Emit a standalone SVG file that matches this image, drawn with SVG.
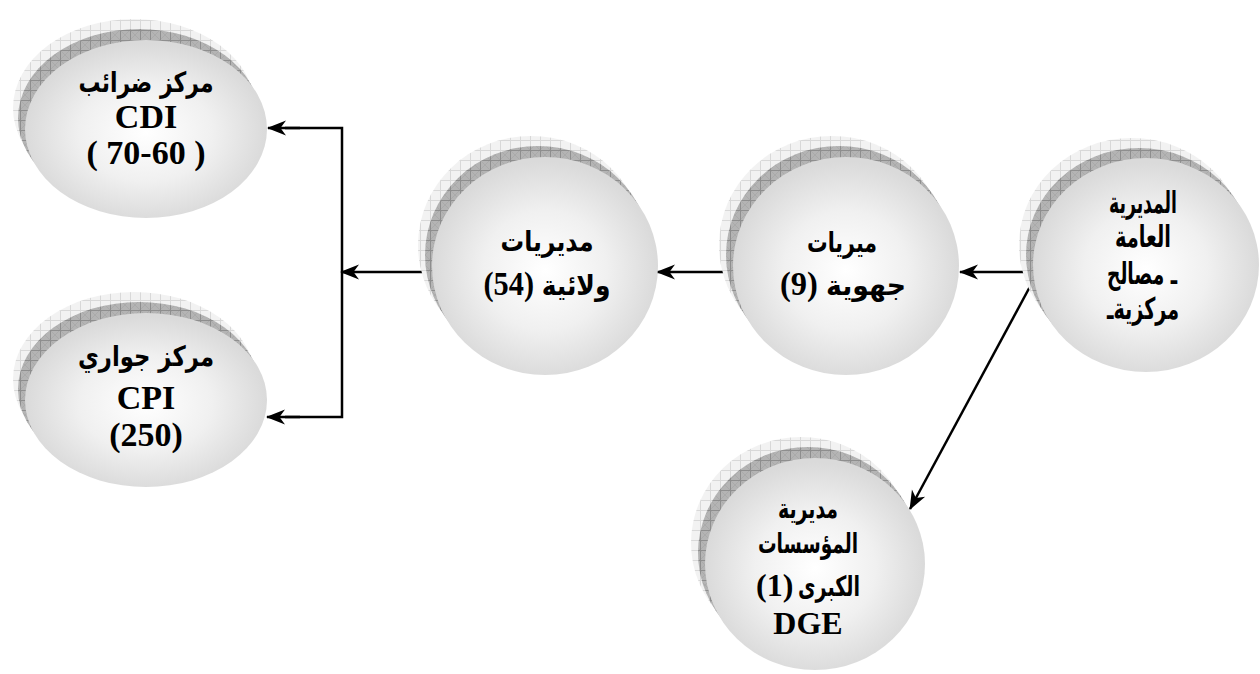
<svg xmlns="http://www.w3.org/2000/svg" width="1260" height="674" viewBox="0 0 1260 674">
  <defs>
    <radialGradient id="ballFill" cx="50%" cy="52%" r="50%">
      <stop offset="0%" stop-color="#ffffff"/>
      <stop offset="55%" stop-color="#f0f0f0"/>
      <stop offset="100%" stop-color="#dadada"/>
    </radialGradient>
    <pattern id="gridLight" width="10" height="10" patternUnits="userSpaceOnUse">
      <rect width="10" height="10" fill="#f2f2f2"/>
      <path d="M0 0.5H10M0.5 0V10" stroke="#d8d8d8" stroke-width="1"/>
    </pattern>
    <pattern id="gridDark" width="10" height="10" patternUnits="userSpaceOnUse">
      <rect width="10" height="10" fill="#b4b4b4"/>
      <path d="M0 0L10 10M10 0L0 10" stroke="#a2a2a2" stroke-width="0.6"/>
      <path d="M0 0.5H10M0.5 0V10" stroke="#8e8e8e" stroke-width="1"/>
    </pattern>
    <marker id="arrowHead" markerWidth="22" markerHeight="18" refX="19" refY="9" orient="auto" markerUnits="userSpaceOnUse">
      <path d="M20 9L1 1.5L6.5 9L1 16.5Z" fill="#000"/>
    </marker>
    <style>
      .shLight { fill: url(#gridLight); }
      .shDark { fill: url(#gridDark); }
      .ball { fill: url(#ballFill); }
      .lbl { font-family: "Liberation Serif", "DejaVu Sans", serif; font-weight: bold; font-size: 34px; fill: #000; text-anchor: middle; }
      .ar { font-family: "DejaVu Sans", "Liberation Serif", sans-serif; font-weight: bold; font-size: 28px; fill: #000; text-anchor: middle; }
      .arIn { font-family: "DejaVu Sans", "Liberation Serif", sans-serif; font-size: 28px; }
      .arSans { font-family: "DejaVu Sans", "Liberation Sans", sans-serif; font-weight: bold; font-size: 30px; fill: #000; text-anchor: middle; }
      .wire { stroke: #000; stroke-width: 2.5; fill: none; }
    </style>
  </defs>

  <!-- connectors -->
  <g id="connectors">
    <line class="wire" x1="1033" y1="272" x2="960" y2="272" marker-end="url(#arrowHead)"/>
    <line class="wire" x1="731" y1="272" x2="657" y2="272" marker-end="url(#arrowHead)"/>
    <line class="wire" x1="429" y1="272" x2="341" y2="272" marker-end="url(#arrowHead)"/>
    <polyline class="wire" points="285,128 342,128 342,417 285,417"/>
    <line class="wire" x1="300" y1="128" x2="268" y2="128" marker-end="url(#arrowHead)"/>
    <line class="wire" x1="300" y1="417" x2="267" y2="417" marker-end="url(#arrowHead)"/>
    <line class="wire" x1="1033" y1="281" x2="910" y2="509" marker-end="url(#arrowHead)"/>
  </g>

  <!-- tax centre CDI -->
  <g id="node-cdi">
    <ellipse class="shLight" cx="134" cy="108" rx="121" ry="89"/>
    <ellipse class="shDark" cx="139" cy="118" rx="121" ry="89"/>
    <ellipse class="ball" cx="146" cy="129" rx="121" ry="89"/>
    <text class="ar" x="146" y="92" textLength="135" lengthAdjust="spacingAndGlyphs">مركز ضرائب</text>
    <text class="lbl" x="146" y="128">CDI</text>
    <text class="lbl" x="146" y="164">( 70-60 )</text>
  </g>

  <!-- local centre CPI -->
  <g id="node-cpi">
    <ellipse class="shLight" cx="134" cy="379" rx="121" ry="87"/>
    <ellipse class="shDark" cx="139" cy="389" rx="121" ry="87"/>
    <ellipse class="ball" cx="146" cy="400" rx="121" ry="87"/>
    <text class="ar" x="146" y="366" textLength="136" lengthAdjust="spacingAndGlyphs">مركز جواري</text>
    <text class="lbl" x="146" y="409">CPI</text>
    <text class="lbl" x="146" y="446">(250)</text>
  </g>

  <!-- wilaya directorates -->
  <g id="node-wilaya">
    <ellipse class="shLight" cx="531" cy="245" rx="113" ry="109"/>
    <ellipse class="shDark" cx="538" cy="255" rx="113" ry="109"/>
    <ellipse class="ball" cx="545" cy="266" rx="113" ry="109"/>
    <text class="ar" x="547" y="251" textLength="93" lengthAdjust="spacingAndGlyphs">مديريات</text>
    <text class="lbl" x="547" y="295" direction="rtl" textLength="127" lengthAdjust="spacingAndGlyphs"><tspan class="arIn">ولائية</tspan> (54)</text>
  </g>

  <!-- regional directorates -->
  <g id="node-regional">
    <ellipse class="shLight" cx="832" cy="245" rx="113" ry="109"/>
    <ellipse class="shDark" cx="839" cy="255" rx="113" ry="109"/>
    <ellipse class="ball" cx="846" cy="266" rx="113" ry="109"/>
    <text class="ar" x="842" y="252" textLength="70" lengthAdjust="spacingAndGlyphs">ميريات</text>
    <text class="lbl" x="843" y="295" direction="rtl" textLength="126" lengthAdjust="spacingAndGlyphs"><tspan class="arIn">جهوية</tspan> (9)</text>
  </g>

  <!-- general directorate -->
  <g id="node-general">
    <ellipse class="shLight" cx="1132" cy="245" rx="113" ry="107"/>
    <ellipse class="shDark" cx="1139" cy="255" rx="113" ry="107"/>
    <ellipse class="ball" cx="1146" cy="265" rx="113" ry="107"/>
    <text class="arSans" x="1143" y="213" textLength="68" lengthAdjust="spacingAndGlyphs">المديرية</text>
    <text class="arSans" x="1143" y="247" textLength="56" lengthAdjust="spacingAndGlyphs">العامة</text>
    <text class="arSans" x="1142" y="284" direction="rtl" textLength="70" lengthAdjust="spacingAndGlyphs">ـ مصالح</text>
    <text class="arSans" x="1143" y="319" direction="rtl" textLength="72" lengthAdjust="spacingAndGlyphs">مركزيةـ</text>
  </g>

  <!-- large enterprises directorate -->
  <g id="node-dge">
    <ellipse class="shLight" cx="801" cy="543" rx="110" ry="106"/>
    <ellipse class="shDark" cx="808" cy="553" rx="110" ry="106"/>
    <ellipse class="ball" cx="815" cy="564" rx="110" ry="106"/>
    <text class="ar" x="808" y="518" textLength="60" lengthAdjust="spacingAndGlyphs">مديرية</text>
    <text class="ar" x="808" y="553" textLength="100" lengthAdjust="spacingAndGlyphs">المؤسسات</text>
    <text class="ar" x="860" y="596" style="text-anchor:end" textLength="62" lengthAdjust="spacingAndGlyphs">الكبرى</text>
    <text class="lbl" x="756" y="596" style="text-anchor:start;font-size:32px">(1)</text>
    <text class="lbl" x="808" y="634" style="font-size:32px">DGE</text>
  </g>
</svg>
